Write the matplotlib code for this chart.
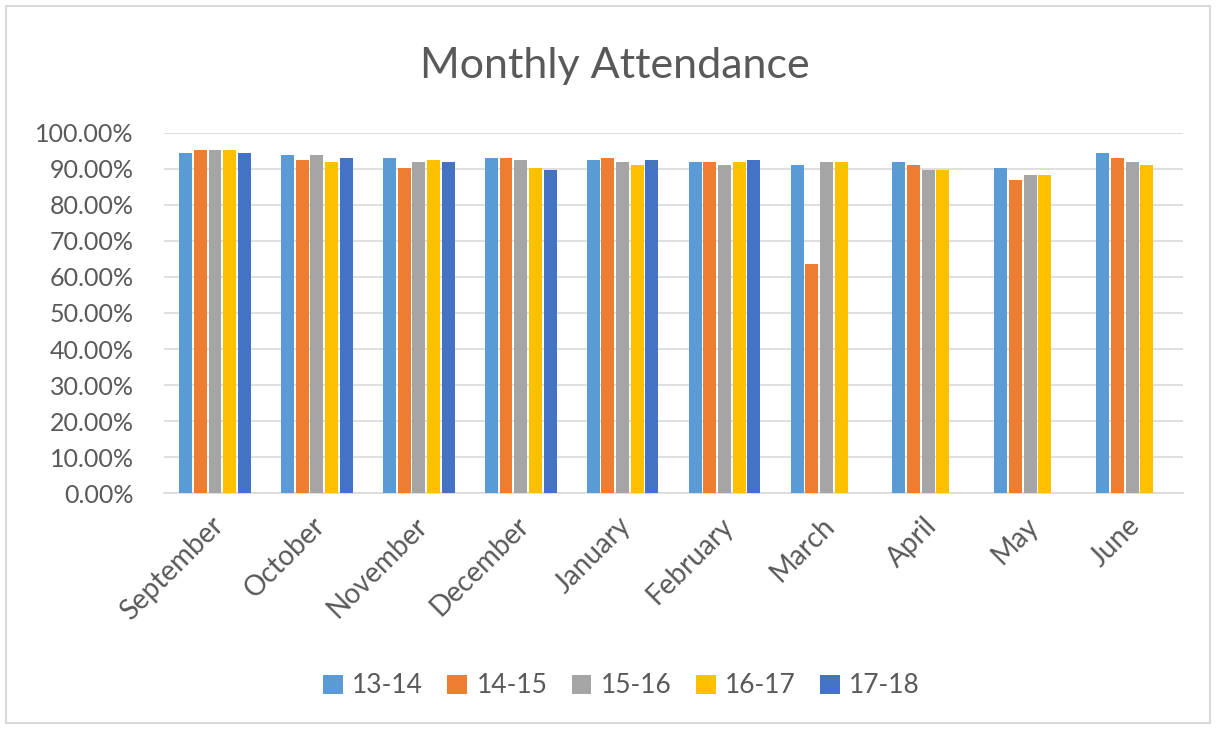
import matplotlib
matplotlib.use("Agg")
import matplotlib.pyplot as plt
import numpy as np
from matplotlib.patches import Rectangle
from matplotlib.ticker import PercentFormatter
from matplotlib.transforms import ScaledTranslation

months = ["September", "October", "November", "December", "January",
          "February", "March", "April", "May", "June"]
series_names = ["13-14", "14-15", "15-16", "16-17", "17-18"]
colors = ["#5B9BD5", "#ED7D31", "#A5A5A5", "#FFC000", "#4472C4"]

att_13_14 = [94.5, 93.9, 93.1, 93.1, 92.5, 91.8, 91.1, 91.8, 90.4, 94.5]
att_14_15 = [95.3, 92.5, 90.4, 93.1, 93.1, 91.8, 63.6, 91.1, 86.9, 93.1]
att_15_16 = [95.3, 93.9, 91.8, 92.5, 91.8, 91.1, 91.8, 89.7, 88.3, 91.8]
att_16_17 = [95.3, 91.8, 92.5, 90.4, 91.1, 91.8, 91.8, 89.7, 88.3, 91.1]
att_17_18 = [94.5, 93.1, 91.8, 89.7, 92.5, 92.5, None, None, None, None]
series = [att_13_14, att_14_15, att_15_16, att_16_17, att_17_18]

text_color = "#595959"
font = "Lato"

fig = plt.figure(figsize=(12.16, 7.29), dpi=100)
fig.patches.append(Rectangle((0.005, 0.008), 0.99, 0.984, transform=fig.transFigure,
                             fill=False, edgecolor="#D9D9D9", linewidth=1.5))

ax = fig.add_axes([0.1349, 0.3237, 0.838, 0.4939])
x = np.arange(len(months))
step = 0.144
width = 0.127
for i, (name, vals, c) in enumerate(zip(series_names, series, colors)):
    xs = [xi + (i - 2) * step for xi, v in zip(x, vals) if v is not None]
    vs = [v for v in vals if v is not None]
    ax.bar(xs, vs, width=width, color=c, label=name, zorder=3)

ax.set_ylim(0, 100)
ax.set_xlim(-0.5, len(months) - 0.5)
ax.set_yticks(np.arange(0, 101, 10))
ax.yaxis.set_major_formatter(PercentFormatter(100, decimals=2))
ax.grid(axis="y", color="#D9D9D9", linewidth=1.2, zorder=0)
for s in ["top", "right", "left"]:
    ax.spines[s].set_visible(False)
ax.spines["bottom"].set_color("#D9D9D9")
ax.spines["bottom"].set_linewidth(1.2)
ax.tick_params(axis="both", length=0, colors=text_color)
ax.tick_params(axis="y", pad=22, labelsize=18)
ax.tick_params(axis="x", pad=14, labelsize=20)
ax.set_xticks(x)
ax.set_xticklabels(months, rotation=45, ha="right", va="top",
                   rotation_mode="anchor", fontfamily=font)
shift = ScaledTranslation(-5 / 100, 0, fig.dpi_scale_trans)
for lbl in ax.get_xticklabels():
    lbl.set_transform(lbl.get_transform() + shift)
for lbl in ax.get_yticklabels():
    lbl.set_fontfamily(font)

fig.text(0.506, 0.91, "Monthly Attendance", ha="center", va="center",
         fontsize=31, color=text_color, fontfamily=font)

leg = fig.legend(loc="center", bbox_to_anchor=(0.511, 0.059), ncol=5, frameon=False,
                 handlelength=0.75, handleheight=0.75, handletextpad=0.35,
                 columnspacing=0.92, prop={"family": font, "size": 19})
for t in leg.get_texts():
    t.set_color(text_color)

fig.savefig("out.png", dpi=100)
